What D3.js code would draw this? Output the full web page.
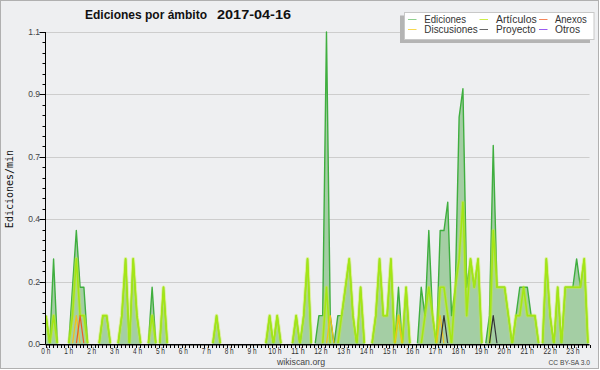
<!DOCTYPE html>
<html><head><meta charset="utf-8">
<script src="https://cdn.jsdelivr.net/npm/d3@7"></script>
<style>html,body{margin:0;padding:0;background:#fff;} svg{display:block;}</style>
</head><body>
<svg id="c" width="600" height="370"></svg>
<script>
// ---------- data (10-minute bins, edits per minute) ----------
const titleText = "Ediciones por ámbito";
const dateText = "2017-04-16";
const yAxisTitle = "Ediciones/min";
const hourLabels = d3.range(24).map(h => h + " h");
const yTickValues = [0, 0.22, 0.44, 0.66, 0.88, 1.1];
const legendNames = ["Ediciones", "Artículos", "Anexos", "Discusiones", "Proyecto", "Otros"];

// one row per hour, 6 bins each
const ediciones = [
  0.1,0,0.3,0,0,0,   0,0.2,0.4,0.2,0.2,0,   0,0,0,0.1,0.1,0,   0,0,0.1,0.3,0,0.3,
  0.1,0,0,0,0.2,0,   0,0.2,0,0,0,0,         0,0,0,0,0,0,       0,0,0,0.1,0,0,
  0,0,0,0,0,0,       0,0,0,0,0,0.1,         0,0.1,0,0,0,0,     0.1,0,0.1,0.3,0,0,
  0.1,0.1,1.1,0.1,0,0.1, 0.1,0.2,0.3,0.1,0,0.2, 0,0,0,0.1,0.3,0.1, 0.1,0.3,0,0.2,0,0.2,
  0,0,0,0.2,0.1,0.4, 0.1,0,0.4,0.4,0.5,0.1, 0.2,0.8,0.9,0.2,0.3,0.2, 0.3,0,0,0.1,0.7,0.2,
  0.2,0.2,0.1,0,0.1,0.2, 0.2,0.2,0.1,0.1,0,0, 0.3,0.1,0,0.2,0,0.2, 0.2,0.2,0.3,0.2,0.3,0
];
const articulos = [
  0.1,0,0.1,0,0,0,   0,0.1,0.3,0.1,0.1,0,   0,0,0,0.1,0.1,0,   0,0,0.1,0.3,0,0.3,
  0.1,0,0,0,0.1,0,   0,0.2,0,0,0,0,         0,0,0,0,0,0,       0,0,0,0.1,0,0,
  0,0,0,0,0,0,       0,0,0,0,0,0.1,         0,0.1,0,0,0,0,     0.1,0,0.1,0.3,0,0,
  0,0,0.2,0,0,0,     0.1,0.2,0.3,0.1,0,0.2, 0,0,0,0.1,0.3,0.1, 0.1,0.3,0,0.1,0,0.2,
  0,0,0,0,0.1,0.2,   0.1,0,0.2,0.2,0.1,0,   0.2,0.3,0.5,0.1,0.3,0.2, 0.3,0,0,0,0.4,0.2,
  0.2,0.2,0.1,0,0.1,0.1, 0.2,0.1,0.1,0.1,0,0, 0.3,0.1,0,0.2,0,0.2, 0.2,0.2,0.2,0.2,0.3,0
];
const anexos = [
  0,0,0,0,0,0, 0,0,0,0.1,0,0, 0,0,0,0,0,0, 0,0,0,0,0,0,
  0,0,0,0,0,0, 0,0,0,0,0,0, 0,0,0,0,0,0, 0,0,0,0,0,0,
  0,0,0,0,0,0, 0,0,0,0,0,0, 0,0,0,0,0,0, 0,0,0,0,0,0,
  0,0,0,0,0,0, 0,0,0,0,0,0, 0,0,0,0,0,0, 0,0,0,0,0,0,
  0,0,0,0,0,0, 0,0,0,0,0,0, 0,0,0,0,0,0, 0,0,0,0,0,0,
  0,0,0,0,0,0, 0,0,0,0,0,0, 0,0,0,0,0,0, 0,0,0,0,0,0
];
const discusiones = [
  0,0,0,0,0,0, 0,0,0.1,0,0,0, 0,0,0,0,0,0, 0,0,0,0,0,0,
  0,0,0,0,0,0, 0,0,0,0,0,0, 0,0,0,0,0,0, 0,0,0,0,0,0,
  0,0,0,0,0,0, 0,0,0,0,0,0, 0,0,0,0,0,0, 0,0,0,0,0,0,
  0,0,0,0.1,0,0, 0,0,0,0,0,0, 0,0,0,0,0,0, 0,0,0,0.1,0,0,
  0,0,0,0,0,0, 0,0,0.1,0,0,0, 0,0,0,0,0,0, 0,0,0,0,0,0,
  0,0,0,0,0,0, 0,0,0,0,0,0, 0,0,0,0,0,0, 0,0,0,0,0,0
];
const proyecto = [
  0,0,0,0,0,0, 0,0,0,0,0,0, 0,0,0,0,0,0, 0,0,0,0,0,0,
  0,0,0,0,0,0, 0,0,0,0,0,0, 0,0,0,0,0,0, 0,0,0,0,0,0,
  0,0,0,0,0,0, 0,0,0,0,0,0, 0,0,0,0,0,0, 0,0,0,0,0,0,
  0,0,0,0,0,0, 0,0,0,0,0,0, 0,0,0,0,0,0, 0,0,0,0,0,0,
  0,0,0,0,0,0, 0,0,0,0.1,0,0, 0,0,0,0,0,0, 0,0,0,0,0.1,0,
  0,0,0,0,0,0, 0,0,0,0,0,0, 0,0,0,0,0,0, 0,0,0,0,0,0
];
const otros = d3.range(144).map(() => 0);

// ---------- drawing ----------
const svg = d3.select("#c");
const FONT = "'Liberation Sans', Arial, sans-serif";
const BG = "#eeeff1";

svg.append("rect").attr("x",0).attr("y",0).attr("width",600).attr("height",370).attr("fill","#ffffff");
svg.append("rect").attr("x",0.5).attr("y",0.5).attr("width",598).attr("height",368)
  .attr("fill",BG).attr("stroke","#b0b0b0");

const plotL = 45.5, plotR = 589.5, plotT = 32, plotB = 344;
const x = d3.scaleLinear().domain([0, 143]).range([46, 588]);
const xTime = d3.scaleLinear().domain([0, 144]).range([plotL, plotR]);
const xLabel = d3.scaleLinear().domain([0, 23]).range([45.8, 573]);
const y = d3.scaleLinear().domain([0, 1.1]).range([plotB, plotT]);

// gridlines
svg.append("g").selectAll("line").data(yTickValues.filter(v => v > 0)).join("line")
  .attr("x1", plotL + 0.5).attr("x2", plotR)
  .attr("y1", d => Math.round(y(d)) + 0.5).attr("y2", d => Math.round(y(d)) + 0.5)
  .attr("stroke", "#cdcdcd").attr("stroke-width", 1);

// area for Ediciones
const area = d3.area().x((d, i) => x(i)).y0(y(0)).y1(d => y(d));
svg.append("path").attr("d", area(ediciones)).attr("fill", "#9fcb9f").attr("fill-opacity", 0.95);

// line helper: skip segments lying on zero
function runsPath(vals) {
  const line = d3.line().x(i => x(i)).y(i => y(vals[i]));
  const runs = []; let cur = null;
  for (let i = 0; i < vals.length - 1; i++) {
    if (vals[i] > 0 || vals[i + 1] > 0) {
      if (!cur) cur = [i];
      cur.push(i + 1);
    } else if (cur) { runs.push(cur); cur = null; }
  }
  if (cur) runs.push(cur);
  return runs.map(r => line(r)).join("");
}

svg.append("clipPath").attr("id","pc").append("rect")
  .attr("x", plotL).attr("y", plotT - 3).attr("width", plotR - plotL + 3).attr("height", plotB - plotT + 2.3);
const lines = svg.append("g").attr("clip-path","url(#pc)");

lines.append("path").attr("d", runsPath(ediciones)).attr("fill","none")
  .attr("stroke","#3fae3f").attr("stroke-width",1.4).attr("stroke-linejoin","round");
lines.append("path").attr("d", runsPath(articulos)).attr("fill","none")
  .attr("stroke","#c6f030").attr("stroke-opacity",0.45).attr("stroke-width",3.6).attr("stroke-linejoin","round");
lines.append("path").attr("d", runsPath(articulos)).attr("fill","none")
  .attr("stroke","#a4e614").attr("stroke-width",1.6).attr("stroke-linejoin","round");

const minor = [
  {vals: discusiones, color: "#f2c21a"},
  {vals: anexos, color: "#ee5a24"},
  {vals: proyecto, color: "#333333"},
  {vals: otros, color: "#9a4cf0"}
];
minor.forEach(s => {
  lines.append("path").attr("d", runsPath(s.vals)).attr("fill","none")
    .attr("stroke", s.color).attr("stroke-width",1.2).attr("stroke-linejoin","round");
});

// axes
const ax = svg.append("g");
ax.append("line").attr("x1", plotL).attr("x2", plotL).attr("y1", plotT).attr("y2", plotB + 0.5)
  .attr("stroke","#000").attr("stroke-width",1);
ax.append("line").attr("x1", plotL).attr("x2", plotR).attr("y1", plotB + 0.75).attr("y2", plotB + 0.75)
  .attr("stroke","#000").attr("stroke-width",1.5);

// y ticks (5 minor between majors)
const yMinor = d3.range(31).map(k => k * 1.1 / 30);
ax.selectAll(".ym").data(yMinor).join("line")
  .attr("x1", (d, k) => k % 6 === 0 ? plotL - 6 : plotL - 3).attr("x2", plotL)
  .attr("y1", d => Math.round(y(d)) + 0.5).attr("y2", d => Math.round(y(d)) + 0.5)
  .attr("stroke","#000").attr("stroke-width",1);
const fmt = d3.format(".1f");
ax.selectAll(".yl").data(yTickValues).join("text")
  .attr("x", 40).attr("y", d => y(d) + 3)
  .attr("text-anchor","end").attr("font-family",FONT).attr("font-size","8.5px").attr("fill","#444")
  .text(d => fmt(d));

// x ticks every 10 min
ax.selectAll(".xt").data(d3.range(145)).join("line")
  .attr("x1", d => Math.round(xTime(d)) + 0.5).attr("x2", d => Math.round(xTime(d)) + 0.5)
  .attr("y1", plotB + 1).attr("y2", plotB + 4)
  .attr("stroke","#000").attr("stroke-width",1);
ax.selectAll(".xl").data(hourLabels).join("text")
  .attr("x", (d, i) => xLabel(i)).attr("y", 354)
  .attr("text-anchor","middle").attr("font-family",FONT).attr("font-size","9px").attr("fill","#333")
  .attr("textLength", d => d.length > 3 ? 13.3 : 9).attr("lengthAdjust","spacingAndGlyphs")
  .text(d => d);

// title
svg.append("text").attr("x", 85).attr("y", 18.5).attr("font-family",FONT)
  .attr("font-weight","bold").attr("font-size","12px").attr("fill","#111").text(titleText);
svg.append("text").attr("x", 217).attr("y", 18.5).attr("font-family",FONT)
  .attr("font-weight","bold").attr("font-size","13px").attr("fill","#111")
  .attr("textLength",74).attr("lengthAdjust","spacingAndGlyphs").text(dateText);

svg.append("text").attr("transform","translate(13,189) rotate(-90)")
  .attr("text-anchor","middle").attr("font-family","'DejaVu Sans Mono', monospace")
  .attr("font-size","10px").attr("fill","#111").text(yAxisTitle);

svg.append("text").attr("x", 301).attr("y", 364.5).attr("text-anchor","middle")
  .attr("font-family",FONT).attr("font-size","9px").attr("fill","#444")
  .attr("textLength",48).attr("lengthAdjust","spacingAndGlyphs").text("wikiscan.org");
svg.append("text").attr("x", 548.5).attr("y", 364.5)
  .attr("font-family",FONT).attr("font-size","7px").attr("fill","#444")
  .attr("textLength",41.5).attr("lengthAdjust","spacingAndGlyphs").text("CC BY-SA 3.0");

// legend
const lg = svg.append("g");
lg.append("rect").attr("x",400).attr("y",15.5).attr("width",190).attr("height",27.5).attr("fill","#b4b4b4");
lg.append("rect").attr("x",404.5).attr("y",12.5).attr("width",189.5).attr("height",27)
  .attr("fill","#ffffff").attr("stroke","#c8c8c8");
const legendColors = ["#8fd08f","#cdee4a","#f5865a","#f8d850","#666666","#9a5cf0"];
const legendWidths = [41.7, 40.7, 31.7, 53.3, 39.7, 25];
const colX = [408, 479.5, 539];
const colT = [424.3, 496, 555];
const rowY = [19, 29];
legendNames.forEach((name, k) => {
  const c = k % 3, r = Math.floor(k / 3);
  lg.append("line").attr("x1", colX[c]).attr("x2", colX[c] + 8.5)
    .attr("y1", rowY[r] + 0.5).attr("y2", rowY[r] + 0.5)
    .attr("stroke", legendColors[k]).attr("stroke-width", 1);
  lg.append("text").attr("x", colT[c]).attr("y", rowY[r] + 3.5)
    .attr("font-family",FONT).attr("font-size","10px").attr("fill","#333")
    .attr("textLength", legendWidths[k]).attr("lengthAdjust","spacingAndGlyphs").text(name);
});
</script>
</body></html>
